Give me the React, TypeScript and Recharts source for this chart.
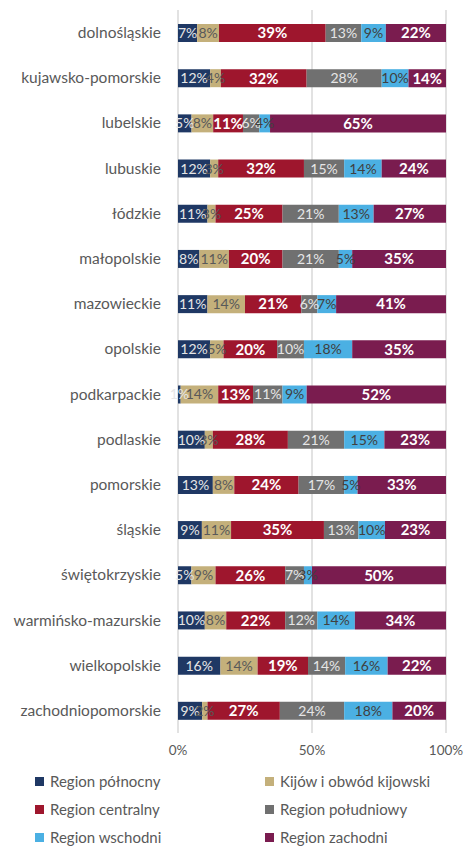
import { BarChart, Bar, XAxis, YAxis, CartesianGrid, LabelList } from "recharts";

const voivodeships = [
  "dolnośląskie", "kujawsko-pomorskie", "lubelskie", "lubuskie", "łódzkie", "małopolskie",
  "mazowieckie", "opolskie", "podkarpackie", "podlaskie", "pomorskie", "śląskie",
  "świętokrzyskie", "warmińsko-mazurskie", "wielkopolskie", "zachodniopomorskie",
];

const polnocny = [7, 12, 5, 12, 11, 8, 11, 12, 1, 10, 13, 9, 5, 10, 16, 9];
const kijow = [8, 4, 8, 3, 3, 11, 14, 5, 14, 3, 8, 11, 9, 8, 14, 2];
const centralny = [39, 32, 11, 32, 25, 20, 21, 20, 13, 28, 24, 35, 26, 22, 19, 27];
const poludniowy = [13, 28, 6, 15, 21, 21, 6, 10, 11, 21, 17, 13, 7, 12, 14, 24];
const wschodni = [9, 10, 4, 14, 13, 5, 7, 18, 9, 15, 5, 10, 3, 14, 16, 18];
const zachodni = [22, 14, 65, 24, 27, 35, 41, 35, 52, 23, 33, 23, 50, 34, 22, 20];

const xTicks = [0, 0.5, 1];

const series = [
  { key: "polnocny", name: "Region północny", values: polnocny, color: "#1f3864", text: "#e6e6e6", bold: false },
  { key: "kijow", name: "Kijów i obwód kijowski", values: kijow, color: "#c4b07b", text: "#595959", bold: false },
  { key: "centralny", name: "Region centralny", values: centralny, color: "#9e162d", text: "#ffffff", bold: true },
  { key: "poludniowy", name: "Region południowy", values: poludniowy, color: "#707070", text: "#e6e6e6", bold: false },
  { key: "wschodni", name: "Region wschodni", values: wschodni, color: "#4bb0e3", text: "#404040", bold: false },
  { key: "zachodni", name: "Region zachodni", values: zachodni, color: "#7a1c4f", text: "#ffffff", bold: true },
];

const data = voivodeships.map((name, i) => {
  const row: Record<string, string | number> = { name };
  series.forEach((s) => { row[s.key] = s.values[i]; });
  return row;
});

const FONT = "Lato, 'DejaVu Sans', sans-serif";

export default function App() {
  return (
    <div style={{ position: "absolute", left: 0, top: 0, width: 464, height: 846, background: "#fff", fontFamily: FONT }}>
      <BarChart
        width={464}
        height={770}
        data={data}
        layout="vertical"
        stackOffset="expand"
        barSize={18}
        margin={{ top: 10, right: 18, bottom: 7, left: 0 }}
      >
        <CartesianGrid horizontal={false} stroke="#d9d9d9" strokeWidth={1.5} />
        <XAxis
          type="number"
          domain={[0, 1]}
          ticks={xTicks}
          tickFormatter={(v: number) => `${Math.round(v * 100)}%`}
          axisLine={false}
          tickLine={false}
          tickMargin={6}
          tick={{ fill: "#595959", fontSize: 13.5, fontFamily: FONT }}
        />
        <YAxis
          type="category"
          dataKey="name"
          width={178}
          axisLine={false}
          tickLine={false}
          tickSize={0}
          tickMargin={17}
          interval={0}
          tick={{ fill: "#595959", fontSize: 15.5, fontFamily: FONT }}
        />
        {series.map((s) => (
          <Bar key={s.key} dataKey={s.key} name={s.name} stackId="a" fill={s.color} isAnimationActive={false}>
            <LabelList
              dataKey={s.key}
              position="center"
              formatter={(v: number) => `${v}%`}
              fill={s.text}
              fontSize={s.bold ? 15 : 14}
              fontWeight={s.bold ? 700 : 400}
              fontFamily={FONT}
            />
          </Bar>
        ))}
      </BarChart>
      <div style={{ position: "absolute", top: 771, left: 0, width: 464, display: "grid", gridTemplateColumns: "230px 234px", rowGap: 8 }}>
        {series.map((s) => (
          <div key={s.key} style={{ display: "flex", alignItems: "center", height: 20, paddingLeft: 35, color: "#595959", fontSize: 15 }}>
            <span style={{ width: 9, height: 9, background: s.color, marginRight: 6, display: "inline-block" }} />
            {s.name}
          </div>
        ))}
      </div>
    </div>
  );
}
